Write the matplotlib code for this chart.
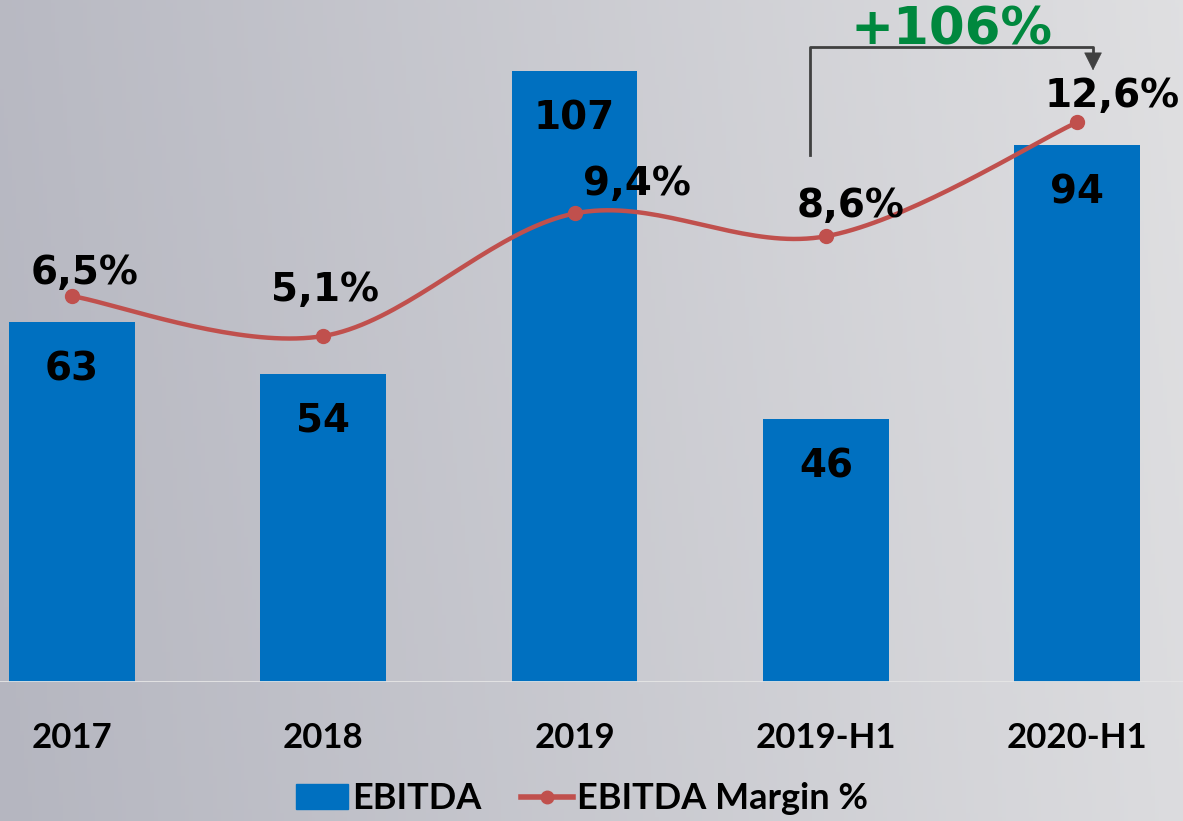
import matplotlib
matplotlib.use('Agg')
import matplotlib.pyplot as plt
import numpy as np
from matplotlib.lines import Line2D
from matplotlib.patches import Patch

# ================= DATA =================
categories = ['2017', '2018', '2019', '2019-H1', '2020-H1']
ebitda = [63, 54, 107, 46, 94]
margin = [6.5, 5.1, 9.4, 8.6, 12.6]
margin_labels = ['6,5%', '5,1%', '9,4%', '8,6%', '12,6%']
growth_label = '+106%'

# label offsets (points) for the margin labels, as placed in the source slide
margin_offsets = [(9, 17), (1, 33), (45, 21), (18, 22), (25, 19)]

BLUE = '#0070C0'
RED = '#C0504D'
GREEN = '#00883E'
narrow = ['Lato', 'DejaVu Sans']


def catmull_rom(xs, ys, n=40, sx=1.0, sy=1.0):
    # Excel-style smoothed line (uniform Catmull-Rom in screen-like units)
    p = np.column_stack([np.asarray(xs, float) * sx, np.asarray(ys, float) * sy])
    p = np.vstack([p[0], p, p[-1]])
    out = []
    t = np.linspace(0, 1, n)[:, None]
    for i in range(1, len(p) - 2):
        p0, p1, p2, p3 = p[i - 1], p[i], p[i + 1], p[i + 2]
        c1 = p1 + (p2 - p0) / 6
        c2 = p2 - (p3 - p1) / 6
        seg = ((1 - t) ** 3) * p1 + 3 * ((1 - t) ** 2) * t * c1 + 3 * (1 - t) * t ** 2 * c2 + t ** 3 * p2
        out.append(seg if i == 1 else seg[1:])
    out = np.vstack(out)
    return out[:, 0] / sx, out[:, 1] / sy


fig = plt.figure(figsize=(11.83, 8.21), dpi=100)

# -------- background gradient --------
bg = fig.add_axes([0, 0, 1, 1], zorder=-10)
gx = np.linspace(0, 1, 300)[None, :]
gy = np.linspace(0, 1, 200)[:, None]
c_left = np.array([181, 182, 192]) / 255
c_right = np.array([224, 224, 226]) / 255
w = np.clip(gx * 0.9 + (1 - gy) * 0.08, 0, 1)[..., None]
img = c_left * (1 - w) + c_right * w
bg.imshow(img, aspect='auto', extent=[0, 1, 0, 1], origin='upper')
bg.axis('off')

# -------- main axes --------
ax = fig.add_axes([0, 139 / 821, 1, 682 / 821])
ax.patch.set_alpha(0)
x = np.arange(len(categories))
ax.bar(x, ebitda, width=0.5, color=BLUE, zorder=2)
ax.set_xlim(-0.2865, 4.421)
ax.set_ylim(0, 119.4)
for s in ax.spines.values():
    s.set_visible(False)
ax.axhline(0, color='#E6E6E6', lw=2, zorder=3)
ax.set_yticks([])
ax.set_xticks(x)
ax.set_xticklabels(categories, fontsize=25, fontweight='bold', family=narrow)
ax.tick_params(axis='x', length=0, pad=29)

for xi, v in zip(x, ebitda):
    ax.annotate(str(v), (xi, v), xytext=(0, -34), textcoords='offset points',
                ha='center', va='center', fontsize=28, fontweight='bold',
                family='DejaVu Sans', zorder=5)

# -------- margin line --------
ax2 = ax.twinx()
ax2.set_ylim(-7.04, 16.89)
ax2.set_yticks([])
for s in ax2.spines.values():
    s.set_visible(False)
sx_, sy_ = 251.3, 28.5
cx, cy = catmull_rom(x, margin, sx=sx_, sy=sy_)
ax2.plot(cx, cy, color=RED, lw=3.2, zorder=4, solid_capstyle='round')
ax2.plot(x, margin, 'o', color=RED, ms=10, zorder=5)
for xi, v, lab, off in zip(x, margin, margin_labels, margin_offsets):
    ax2.annotate(lab, (xi, v), xytext=off, textcoords='offset points',
                 ha='center', va='center', fontsize=28, fontweight='bold',
                 family='DejaVu Sans', zorder=6)

# -------- growth bracket --------
x0, x1 = 2.937, 4.063
y_low, y_top, y_tip = 92.3, 111.2, 106.6
ax.plot([x0, x0, x1, x1], [y_low, y_top, y_top, y_tip + 2.0], color='#404040', lw=2, zorder=6,
        clip_on=False)
ax.annotate('', xy=(x1, y_tip), xytext=(x1, y_tip + 2.6),
            arrowprops=dict(arrowstyle='-|>', color='#404040', lw=0.5,
                            mutation_scale=30), zorder=6)
ax.text((x0 + x1) / 2, 114.0, growth_label, ha='center', va='center', fontsize=37,
        fontweight='bold', color=GREEN, family='DejaVu Sans', zorder=6)

# -------- legend --------
handles = [Patch(color=BLUE, label='EBITDA'),
           Line2D([0], [0], color=RED, lw=4, marker='o', ms=9, label='EBITDA Margin %')]
fig.legend(handles=handles, loc='center', bbox_to_anchor=(0.492, 0.027), ncol=2,
           frameon=False, handlelength=1.45, handleheight=0.7, handletextpad=0.1,
           columnspacing=1.1, prop={'family': narrow, 'weight': 'bold', 'size': 26})

plt.savefig('out.png', dpi=100)
